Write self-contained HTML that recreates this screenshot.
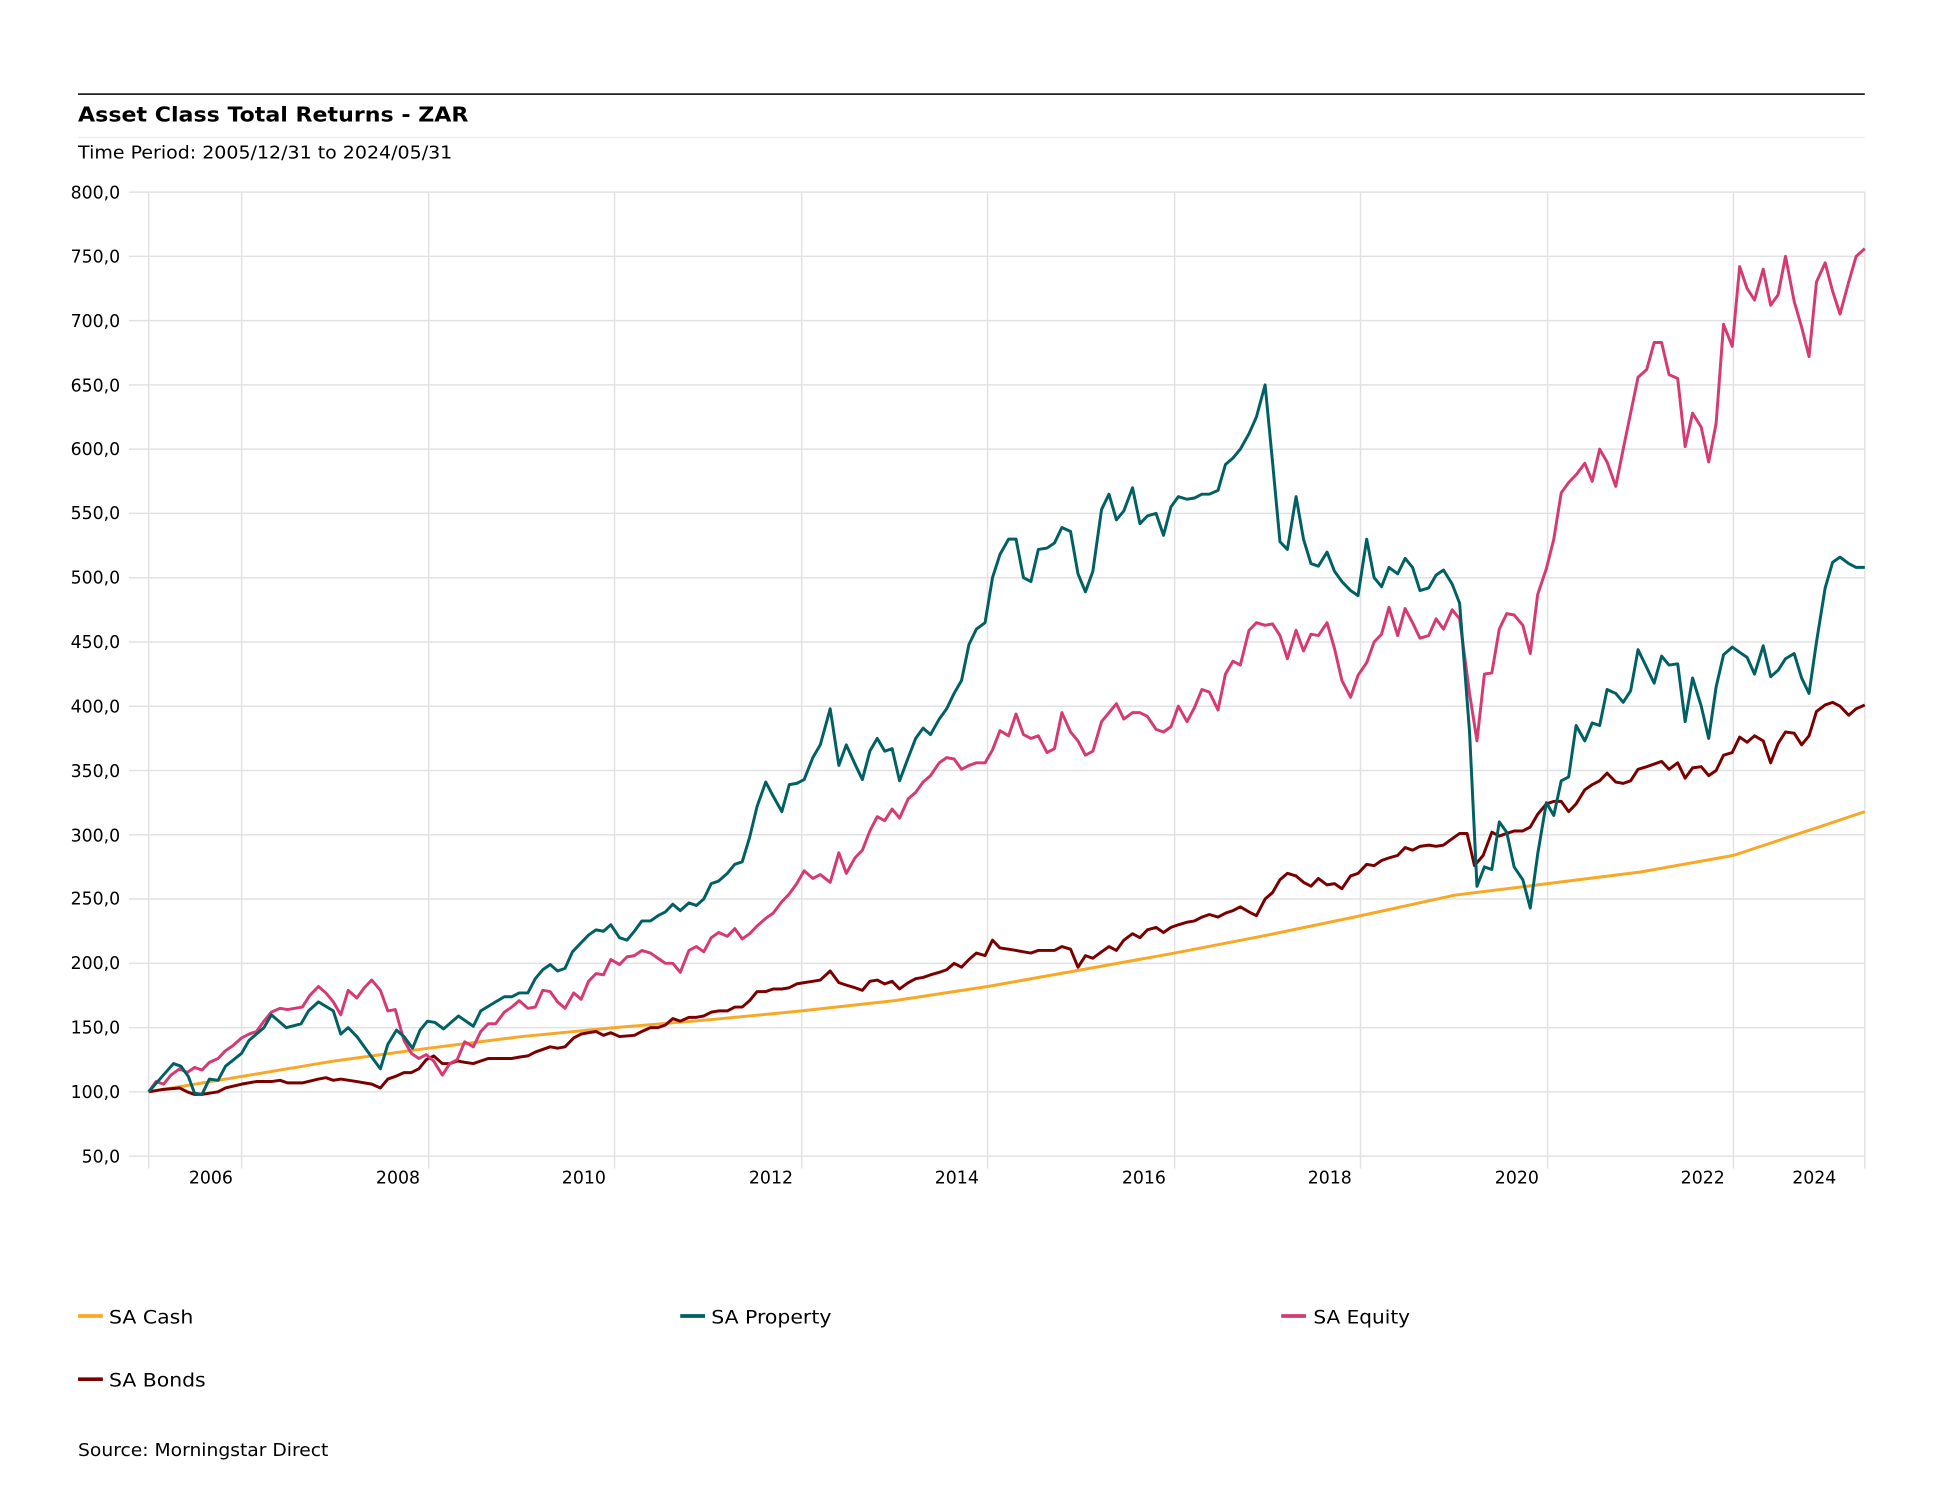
<!DOCTYPE html>
<html><head><meta charset="utf-8"><style>html,body{margin:0;padding:0;background:#fff}svg{display:block}</style></head>
<body>
<svg width="1942" height="1500" viewBox="0 0 1567.3 1210.5" preserveAspectRatio="none" xmlns="http://www.w3.org/2000/svg" font-family="'DejaVu Sans','Liberation Sans',sans-serif">
<line x1="63" y1="76" x2="1505" y2="76" stroke="#222" stroke-width="1.4"/>
<text x="63" y="98" font-size="16.5" font-weight="bold" textLength="315" lengthAdjust="spacingAndGlyphs" fill="#000">Asset Class Total Returns - ZAR</text>
<line x1="63" y1="111" x2="1505" y2="111" stroke="#eee" stroke-width="1.2"/>
<text x="63" y="128" font-size="14" textLength="302" lengthAdjust="spacingAndGlyphs" fill="#000">Time Period: 2005/12/31 to 2024/05/31</text>
<g id="grid" stroke="#e2e2e2" stroke-width="1.2"></g>
<g font-size="14" fill="#000" text-anchor="end" id="ylab">
<text x="97" y="160">800,0</text><text x="97" y="212">750,0</text><text x="97" y="264">700,0</text><text x="97" y="316">650,0</text><text x="97" y="367">600,0</text><text x="97" y="419">550,0</text><text x="97" y="471">500,0</text><text x="97" y="523">450,0</text><text x="97" y="575">400,0</text><text x="97" y="627">350,0</text><text x="97" y="679">300,0</text><text x="97" y="730">250,0</text><text x="97" y="782">200,0</text><text x="97" y="834">150,0</text><text x="97" y="886">100,0</text><text x="97" y="938">50,0</text>
</g>
<g font-size="14" fill="#000" text-anchor="end">
<text x="188" y="955">2006</text><text x="339" y="955">2008</text><text x="489" y="955">2010</text><text x="640" y="955">2012</text><text x="790" y="955">2014</text><text x="941" y="955">2016</text><text x="1091" y="955">2018</text><text x="1242" y="955">2020</text><text x="1392" y="955">2022</text><text x="1482" y="955">2024</text>
</g>
<g id="series" fill="none" stroke-width="2.4" stroke-linejoin="round"></g>
<g font-size="15">
<line x1="63" y1="1062" x2="83" y2="1062" stroke="#f9a825" stroke-width="3"/><text x="88" y="1068" textLength="68" lengthAdjust="spacingAndGlyphs">SA Cash</text>
<line x1="549" y1="1062" x2="569" y2="1062" stroke="#006064" stroke-width="3"/><text x="574" y="1068" textLength="97" lengthAdjust="spacingAndGlyphs">SA Property</text>
<line x1="1034" y1="1062" x2="1054" y2="1062" stroke="#d63a73" stroke-width="3"/><text x="1060" y="1068" textLength="78" lengthAdjust="spacingAndGlyphs">SA Equity</text>
<line x1="63" y1="1113" x2="83" y2="1113" stroke="#7a0000" stroke-width="3"/><text x="88" y="1119" textLength="78" lengthAdjust="spacingAndGlyphs">SA Bonds</text>
<text x="63" y="1175" font-size="14" textLength="202" lengthAdjust="spacingAndGlyphs">Source: Morningstar Direct</text>
</g>
</svg>
<script>
var NS="http://www.w3.org/2000/svg";
function Y(v){return 933-(v-50)*778/750;}
var g=document.getElementById('grid');
function ln(x1,y1,x2,y2,c){var l=document.createElementNS(NS,'line');l.setAttribute('x1',x1);l.setAttribute('y1',y1);l.setAttribute('x2',x2);l.setAttribute('y2',y2);if(c)l.setAttribute('stroke',c);g.appendChild(l);}
for(var v=50;v<=800;v+=50){ln(104,Y(v),1505,Y(v));}
var vx=[120,195,346,496,647,797,948,1098,1249,1399,1505];
vx.forEach(function(x){ln(x,155,x,943);});
var D={
cash:[120,100,195,112,270,124,346,134,421,143,496,150,572,156,647,163,722,171,797,182,873,195,948,208,1023,222,1098,237,1174,253,1249,262,1324,271,1399,284,1474,308,1505,318],
prop:[120,100,140,122,146,120,152,112,157,99,163,98,169,110,176,109,182,120,195,130,201,140,213,150,219,160,231,150,243,153,249,163,257,170,269,163,275,145,281,150,288,143,300,127,307,118,313,137,320,148,326,143,333,134,339,148,345,155,351,154,358,149,370,159,382,151,388,163,400,170,407,174,413,174,419,177,426,177,432,188,438,195,444,199,450,194,456,196,462,209,468,215,475,222,481,226,487,225,493,230,500,220,506,218,512,225,518,233,525,233,531,237,537,240,543,246,549,241,556,247,562,245,568,250,574,262,580,264,587,270,593,277,599,279,605,298,611,322,618,341,624,330,631,318,637,339,643,340,649,343,656,360,662,370,670,398,677,354,683,370,690,355,696,343,702,365,708,375,714,365,720,367,726,342,733,360,739,375,745,383,751,378,758,390,764,398,770,410,776,420,782,448,788,460,795,465,801,500,807,518,814,530,820,530,826,500,832,497,838,522,845,523,851,527,857,539,864,536,870,503,876,489,882,505,889,553,895,565,901,545,907,552,914,570,920,542,926,548,933,550,939,533,945,555,951,563,958,561,964,562,970,565,976,565,983,568,989,588,995,593,1001,600,1008,612,1014,625,1021,650,1027,590,1033,528,1039,522,1046,563,1052,530,1058,511,1064,509,1071,520,1077,505,1083,497,1090,490,1096,486,1103,530,1109,500,1115,493,1121,508,1128,503,1134,515,1140,508,1146,490,1153,492,1159,502,1165,506,1172,495,1178,480,1186,380,1192,260,1198,275,1204,273,1210,310,1216,302,1222,275,1229,265,1235,243,1241,285,1248,325,1254,315,1260,342,1266,345,1272,385,1279,373,1285,387,1291,385,1297,413,1304,410,1310,403,1316,412,1322,444,1329,430,1335,418,1341,439,1347,432,1354,433,1360,388,1366,422,1373,400,1379,375,1385,415,1391,440,1398,446,1404,442,1410,438,1416,425,1423,447,1429,423,1435,428,1441,437,1448,441,1454,422,1460,410,1466,450,1473,492,1479,512,1485,516,1492,511,1498,508,1505,508],
eq:[120,100,126,108,132,106,138,113,145,118,151,115,157,119,163,117,169,123,176,126,182,132,188,136,195,142,201,145,207,147,213,155,219,162,226,165,232,164,238,165,244,166,250,175,257,182,263,177,269,170,275,160,281,179,288,173,294,181,300,187,307,179,313,163,319,164,326,140,332,130,338,126,344,129,350,124,357,113,363,122,369,125,375,139,382,135,388,147,394,153,400,153,407,162,413,166,419,171,426,165,432,166,438,179,444,178,450,170,456,165,463,177,469,172,475,186,481,192,487,191,493,203,500,199,506,205,512,206,518,210,525,208,531,204,537,200,543,200,549,193,556,210,562,213,568,209,574,220,580,224,587,221,593,227,599,219,605,223,611,229,618,235,624,239,631,248,637,254,643,262,649,272,656,266,662,269,670,263,677,286,683,270,690,282,696,288,702,303,708,314,714,311,720,320,726,313,733,328,739,333,745,341,751,346,758,356,764,360,770,359,776,351,782,354,788,356,795,356,801,366,807,381,814,377,820,394,826,378,832,375,838,377,845,364,851,367,857,395,864,380,870,373,876,362,882,365,889,388,895,395,901,402,907,390,914,395,920,395,926,392,933,382,939,380,945,384,951,400,958,388,964,399,970,413,976,411,983,397,989,425,995,435,1001,432,1008,459,1014,465,1021,463,1027,464,1033,455,1039,437,1046,459,1052,443,1058,456,1064,455,1071,465,1077,445,1083,420,1090,407,1096,424,1103,434,1109,450,1115,456,1121,477,1128,455,1134,476,1140,465,1146,453,1153,455,1159,468,1165,460,1172,475,1178,468,1186,410,1192,373,1198,425,1204,426,1210,460,1216,472,1222,471,1229,463,1235,441,1241,487,1248,507,1254,530,1260,566,1266,574,1272,580,1279,589,1285,575,1291,600,1297,590,1304,571,1310,600,1316,628,1322,656,1329,662,1335,683,1341,683,1347,658,1354,655,1360,602,1366,628,1373,617,1379,590,1385,620,1391,697,1398,680,1404,742,1410,725,1416,716,1423,740,1429,712,1435,720,1441,750,1448,715,1454,695,1460,672,1466,730,1473,745,1479,723,1485,705,1492,730,1498,750,1505,756],
bond:[120,100,132,102,145,103,151,100,157,98,163,98,169,99,176,100,182,103,195,106,207,108,219,108,226,109,232,107,244,107,257,110,263,111,269,109,275,110,288,108,300,106,307,103,313,110,319,112,326,115,332,115,338,118,344,125,350,128,357,122,363,122,369,124,375,123,382,122,388,124,394,126,407,126,413,126,419,127,426,128,432,131,438,133,444,135,450,134,456,135,463,142,469,145,475,146,481,147,487,144,493,146,500,143,512,144,518,147,525,150,531,150,537,152,543,157,549,155,556,158,562,158,568,159,574,162,580,163,587,163,593,166,599,166,605,171,611,178,618,178,624,180,631,180,637,181,643,184,649,185,656,186,662,187,670,194,677,185,683,183,690,181,696,179,702,186,708,187,714,184,720,186,726,180,733,185,739,188,745,189,751,191,758,193,764,195,770,200,776,197,782,203,788,208,795,206,801,218,807,212,814,211,820,210,826,209,832,208,838,210,845,210,851,210,857,213,864,211,870,197,876,206,882,204,889,209,895,213,901,210,907,218,914,223,920,220,926,226,933,228,939,224,945,228,951,230,958,232,964,233,970,236,976,238,983,236,989,239,995,241,1001,244,1008,240,1014,237,1021,250,1027,255,1033,265,1039,270,1046,268,1052,263,1058,260,1064,266,1071,261,1077,262,1083,258,1090,268,1096,270,1103,277,1109,276,1115,280,1121,282,1128,284,1134,290,1140,288,1146,291,1153,292,1159,291,1165,292,1172,297,1178,301,1184,301,1190,276,1197,284,1204,302,1210,299,1216,301,1222,303,1229,303,1235,306,1241,316,1248,324,1254,326,1260,326,1266,318,1272,324,1279,335,1285,339,1291,342,1297,348,1304,341,1310,340,1316,342,1322,351,1329,353,1335,355,1341,357,1347,351,1354,356,1360,344,1366,352,1373,353,1379,346,1385,350,1391,362,1398,364,1404,376,1410,372,1416,377,1423,373,1429,356,1435,371,1441,380,1448,379,1454,370,1460,377,1466,396,1473,401,1479,403,1485,400,1492,393,1498,398,1505,401]
};
var S=document.getElementById('series');
[['cash','#f9a825'],['bond','#7a0000'],['eq','#d63a73'],['prop','#006064']].forEach(function(s){
 var a=D[s[0]],p=[];for(var i=0;i<a.length;i+=2)p.push(a[i]+','+Y(a[i+1]).toFixed(1));
 var pl=document.createElementNS(NS,'polyline');pl.setAttribute('points',p.join(' '));pl.setAttribute('stroke',s[1]);S.appendChild(pl);
});
</script>
</body></html>
